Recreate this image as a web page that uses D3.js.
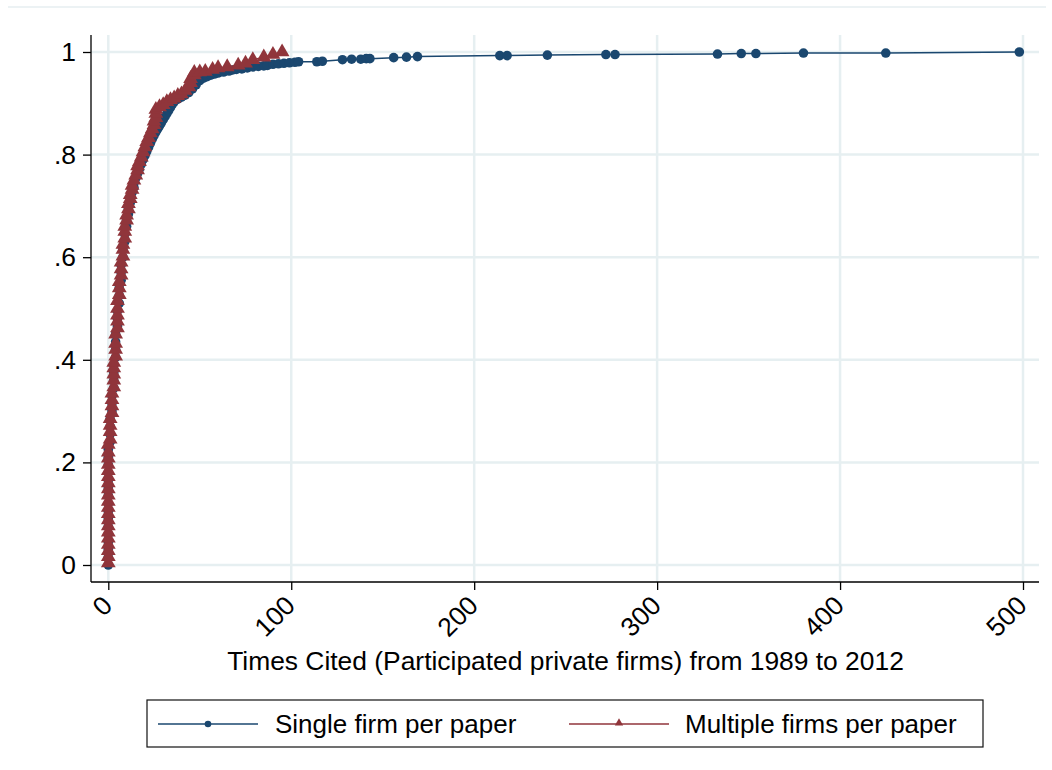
<!DOCTYPE html>
<html>
<head>
<meta charset="utf-8">
<script src="https://cdn.jsdelivr.net/npm/d3@7"></script>
<style>
  html, body { margin: 0; padding: 0; background: #ffffff; }
  svg { display: block; }
  text { font-family: Arial, "Liberation Sans", sans-serif; fill: #000; }
</style>
</head>
<body>
<script>
// ---------------- DATA ----------------
const xTickValues = [0, 100, 200, 300, 400, 500];
const yTickValues = [0, 0.2, 0.4, 0.6, 0.8, 1];
const yTickLabels = ["0", ".2", ".4", ".6", ".8", "1"];
const xAxisTitle = "Times Cited (Participated private firms) from 1989 to 2012";
const seriesNames = ["Single firm per paper", "Multiple firms per paper"];
const seriesColors = ["#1a476f", "#90353b"];

// Single firm per paper: times cited and cumulative share
const singleCited = [
  0,0,0,0,0,0,0,0,0,0,0,0,0,0,0,0,
  1,1,1,1,
  2,2,2,
  3,3,3,3,
  4,4,4,4,
  5,5,5,
  6,6,6,
  7,7,7,
  8,8,
  9,9,
  10,10,
  11,11,
  12,12,
  13,14,14,15,16,17,18,19,20,21,22,23,24,25,26,27,28,29,30,31,32,33,34,35,36,38,40,42,44,46,48,50,52,54,56,58,60,63,66,68,70,73,76,79,82,85,87,90,93,96,99,102,104,
  114,117,128,133,138,141,143,156,163,169,214,218,240,272,277,333,346,354,380,425,498
];
const singleCum = [
  0,.015,.03,.045,.06,.075,.09,.105,.12,.135,.15,.165,.18,.195,.21,.225,
  .24,.255,.27,.285,
  .30,.315,.33,
  .345,.36,.375,.39,
  .405,.42,.435,.45,
  .465,.48,.495,
  .51,.525,.54,
  .555,.57,.585,
  .60,.615,
  .63,.645,
  .66,.672,
  .684,.695,
  .706,.716,
  .726,.736,.745,.754,.763,.772,.781,.79,.798,.806,.814,.822,.83,.837,.844,.85,.856,.862,.868,.874,.88,.886,.892,.898,.903,.908,.912,.916,.921,.928,.936,.944,.949,.952,.955,.957,.959,.961,.963,.965,.966,.967,.969,.971,.972,.973,.974,.976,.977,.978,.979,.98,.981,
  .981,.982,.985,.986,.986,.987,.987,.989,.99,.991,.993,.993,.994,.995,.995,.996,.997,.997,.998,.998,1.0
];

// Multiple firms per paper: times cited and cumulative share
const multiCited = [
  0,0,0,0,0,0,0,0,0,0,0,0,0,0,0,0,0,0,0,0,
  1,1,1,1,
  2,2,2,2,
  3,3,3,3,3,
  4,4,4,4,
  5,5,5,5,5,
  6,6,6,
  7,7,7,
  8,8,8,
  9,9,9,
  10,10,
  11,11,
  12,12,
  13,13,
  14,15,16,16,17,18,19,20,21,22,23,24,25,25,26,26,26,28,30,32,34,36,38,40,42,44,45,45,47,47,50,53,57,60,65,71,75,79,85,90,95
];
const multiCum = [
  .004,.016,.028,.04,.052,.064,.076,.088,.10,.112,.124,.136,.148,.16,.172,.184,.196,.208,.22,.235,
  .245,.26,.272,.285,
  .297,.31,.322,.335,
  .347,.36,.372,.384,.395,
  .407,.42,.432,.45,
  .462,.475,.487,.50,.515,
  .527,.54,.552,
  .565,.577,.59,
  .602,.615,.625,
  .637,.65,.66,
  .672,.682,
  .694,.704,
  .714,.722,
  .732,.74,
  .75,.76,.77,.778,.786,.795,.805,.815,.825,.833,.842,.85,.858,.865,.872,.88,.888,.893,.897,.903,.907,.91,.915,.918,.925,.932,.94,.948,.955,.96,.961,.962,.966,.969,.971,.974,.978,.985,.99,.995,1.0
];

// ---------------- LAYOUT ----------------
const W = 1052, H = 770;
const plot = { left: 91, right: 1039, top: 35, bottom: 582 };

const svg = d3.select("body").append("svg")
  .attr("width", W).attr("height", H)
  .style("background", "#fff");

// faint outer graph-region border (top edge visible)
svg.append("line")
  .attr("x1", 8).attr("x2", 1046).attr("y1", 7).attr("y2", 7)
  .attr("stroke", "#e6eef0").attr("stroke-width", 1.5);

const x = d3.scaleLinear().domain([0, 500]).range([108.3, 1023]);
const y = d3.scaleLinear().domain([0, 1]).range([565, 52]);

// grid
const grid = svg.append("g").attr("class", "grid");
grid.selectAll("line.v").data(xTickValues).enter().append("line")
  .attr("class", "v")
  .attr("x1", d => x(d)).attr("x2", d => x(d))
  .attr("y1", plot.top).attr("y2", plot.bottom)
  .attr("stroke", "#e6eff1").attr("stroke-width", 2.5);
grid.selectAll("line.h").data(yTickValues).enter().append("line")
  .attr("class", "h")
  .attr("x1", plot.left).attr("x2", plot.right)
  .attr("y1", d => y(d)).attr("y2", d => y(d))
  .attr("stroke", "#e6eff1").attr("stroke-width", 2.5);

// axes
const yAxis = d3.axisLeft(y)
  .tickValues(yTickValues)
  .tickFormat((d, i) => yTickLabels[i])
  .tickSize(8).tickSizeOuter(0).tickPadding(7);
const gy = svg.append("g").attr("transform", `translate(${plot.left},0)`).call(yAxis);
gy.select(".domain").remove();
gy.selectAll(".tick line").attr("stroke", "#000").attr("stroke-width", 1.3);
gy.selectAll(".tick text")
  .style("font-size", "26.4px").style("font-family", "Arial, 'Liberation Sans', sans-serif")
  .attr("fill", "#000");
svg.append("line")
  .attr("x1", plot.left).attr("x2", plot.left)
  .attr("y1", plot.top).attr("y2", plot.bottom)
  .attr("stroke", "#000").attr("stroke-width", 1.3);

const xAxis = d3.axisBottom(x)
  .tickValues(xTickValues)
  .tickFormat(d3.format("d"))
  .tickSize(8).tickSizeOuter(0);
const gx = svg.append("g").attr("transform", `translate(0,${plot.bottom})`).call(xAxis);
gx.select(".domain").remove();
gx.selectAll(".tick line").attr("stroke", "#000").attr("stroke-width", 1.3);
gx.selectAll(".tick text")
  .style("font-size", "26.4px").style("font-family", "Arial, 'Liberation Sans', sans-serif")
  .attr("fill", "#000")
  .attr("text-anchor", "end")
  .attr("y", 0).attr("dy", 0)
  .attr("transform", "translate(5,25) rotate(-45)");
svg.append("line")
  .attr("x1", plot.left).attr("x2", plot.right)
  .attr("y1", plot.bottom).attr("y2", plot.bottom)
  .attr("stroke", "#000").attr("stroke-width", 1.3);

// axis title
svg.append("text")
  .attr("x", 565.5).attr("y", 670)
  .attr("text-anchor", "middle")
  .style("font-size", "26.4px")
  .text(xAxisTitle);

// ---------------- SERIES ----------------
const singleData = singleCited.map((c, i) => ({ c, f: singleCum[i] }));
const multiData = multiCited.map((c, i) => ({ c, f: multiCum[i] }));

const line = d3.line().x(d => x(d.c)).y(d => y(d.f));
const tri = d3.symbol().type(d3.symbolTriangle).size(95);

// single firm (drawn first)
svg.append("path").datum(singleData)
  .attr("d", line).attr("fill", "none")
  .attr("stroke", seriesColors[0]).attr("stroke-width", 1.5);
svg.append("g").selectAll("circle").data(singleData).enter().append("circle")
  .attr("cx", d => x(d.c)).attr("cy", d => y(d.f)).attr("r", 4.8)
  .attr("fill", seriesColors[0]);

// multiple firms (on top)
svg.append("path").datum(multiData)
  .attr("d", line).attr("fill", "none")
  .attr("stroke", seriesColors[1]).attr("stroke-width", 1.5);
svg.append("g").selectAll("path.m").data(multiData).enter().append("path")
  .attr("class", "m")
  .attr("d", tri)
  .attr("transform", d => `translate(${x(d.c)},${y(d.f)})`)
  .attr("fill", seriesColors[1]);

// ---------------- LEGEND ----------------
const lg = svg.append("g");
lg.append("rect")
  .attr("x", 147).attr("y", 700).attr("width", 836).attr("height", 47)
  .attr("fill", "#fff").attr("stroke", "#111").attr("stroke-width", 1.2);
const legendItems = [
  { name: seriesNames[0], color: seriesColors[0], x0: 158, sym: "circle", tx: 275 },
  { name: seriesNames[1], color: seriesColors[1], x0: 569, sym: "triangle", tx: 685 }
];
legendItems.forEach(it => {
  lg.append("line")
    .attr("x1", it.x0).attr("x2", it.x0 + 100)
    .attr("y1", 724).attr("y2", 724)
    .attr("stroke", it.color).attr("stroke-width", 1.5);
  if (it.sym === "circle") {
    lg.append("circle").attr("cx", it.x0 + 50).attr("cy", 724).attr("r", 3.3).attr("fill", it.color);
  } else {
    lg.append("path").attr("d", d3.symbol().type(d3.symbolTriangle).size(30)())
      .attr("transform", `translate(${it.x0 + 50},723)`).attr("fill", it.color);
  }
  lg.append("text")
    .attr("x", it.tx).attr("y", 724).attr("dy", "0.35em")
    .style("font-size", "26px")
    .text(it.name);
});
</script>
</body>
</html>
